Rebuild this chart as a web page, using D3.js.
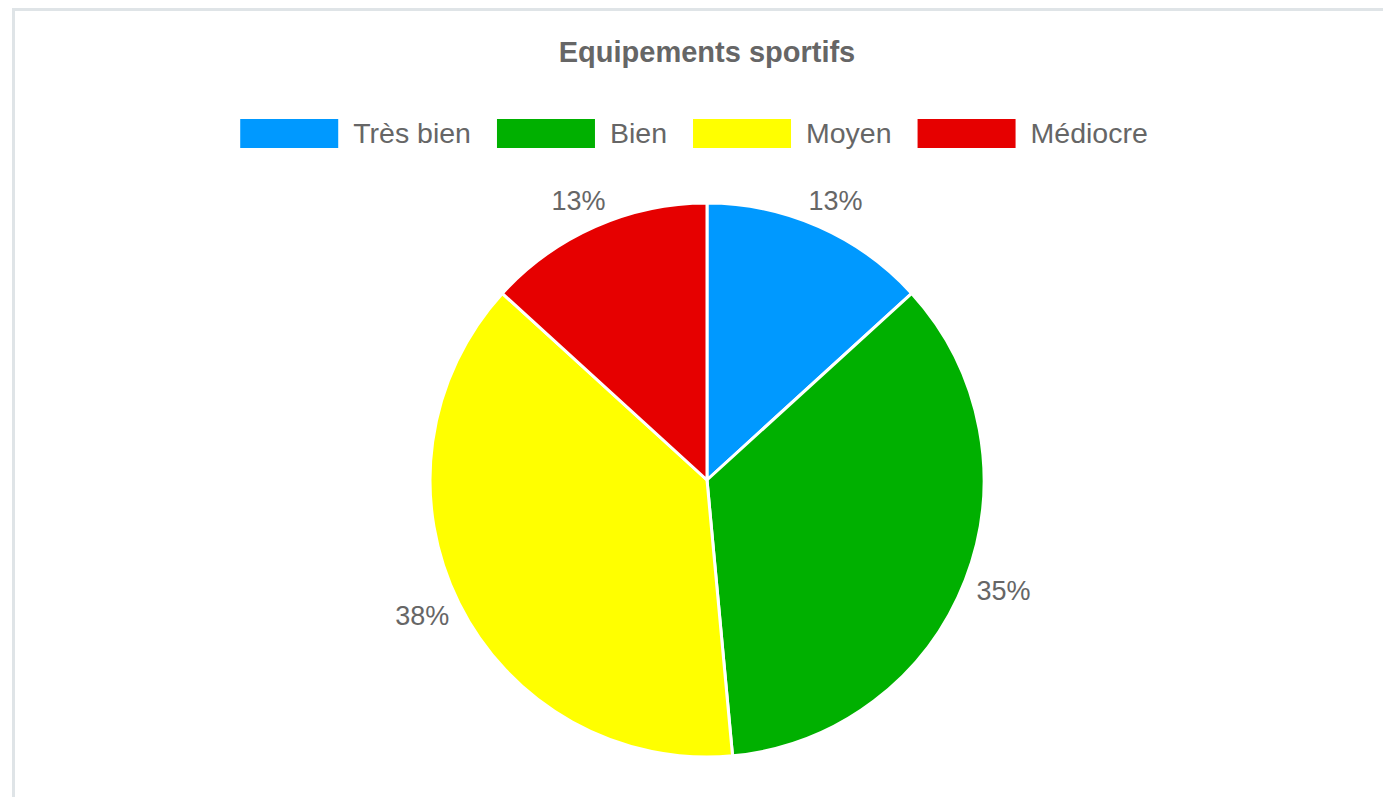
<!DOCTYPE html>
<html>
<head>
<meta charset="utf-8">
<script src="https://cdn.jsdelivr.net/npm/d3@7"></script>
<style>
  html, body { margin: 0; padding: 0; background: #fff; }
  svg { display: block; }
</style>
</head>
<body>
<svg id="chart" width="1383" height="797"></svg>
<script>
const title = "Equipements sportifs";
const categories = ["Très bien", "Bien", "Moyen", "Médiocre"];
const values = [9, 24, 26, 9];
const colors = ["#0099ff", "#00b000", "#ffff00", "#e60000"];

const W = 1383, H = 797;
const svg = d3.select("#chart");
const font = "'Liberation Sans', Arial, Helvetica, sans-serif";

// panel border
svg.append("path")
  .attr("d", `M13.5,${H} L13.5,9.5 L${W},9.5`)
  .attr("fill", "none")
  .attr("stroke", "#dfe4e7")
  .attr("stroke-width", 3);

// title
svg.append("text")
  .attr("x", 707).attr("y", 62)
  .attr("text-anchor", "middle")
  .attr("font-family", font)
  .attr("font-weight", "bold")
  .attr("font-size", 29)
  .attr("fill", "#666")
  .text(title);

// legend
const boxW = 98, boxH = 29, gapText = 15, gapItem = 26, legendCenter = 694;
const legend = svg.append("g").attr("font-family", font).attr("font-size", 28.5).attr("fill", "#666");
const items = categories.map((c, i) => {
  const g = legend.append("g");
  g.append("rect").attr("width", boxW).attr("height", boxH).attr("y", 119).attr("fill", colors[i]);
  const t = g.append("text").attr("x", boxW + gapText).attr("y", 143).text(c);
  return { g, w: boxW + gapText + t.node().getComputedTextLength() };
});
const totalW = d3.sum(items, d => d.w) + gapItem * (items.length - 1);
let x0 = legendCenter - totalW / 2;
items.forEach(it => { it.g.attr("transform", `translate(${x0},0)`); x0 += it.w + gapItem; });

// pie
const cx = 707, cy = 480, R = 277;
const total = d3.sum(values);
const pie = d3.pie().sort(null).value(d => d)(values);
const arc = d3.arc().innerRadius(0).outerRadius(R);
const g = svg.append("g").attr("transform", `translate(${cx},${cy})`);
g.selectAll("path").data(pie).join("path")
  .attr("d", arc)
  .attr("fill", (d, i) => colors[i])
  .attr("stroke", "#fff")
  .attr("stroke-width", 3)
  .attr("stroke-linejoin", "round");

const labelRx = 318, labelRy = 305;
g.selectAll("text.lbl").data(pie).join("text")
  .attr("class", "lbl")
  .attr("x", d => Math.sin((d.startAngle + d.endAngle) / 2) * labelRx)
  .attr("y", d => -Math.cos((d.startAngle + d.endAngle) / 2) * labelRy)
  .attr("text-anchor", "middle")
  .attr("dy", "0.35em")
  .attr("font-family", font)
  .attr("font-size", 27)
  .attr("fill", "#666")
  .text(d => Math.round(d.value / total * 100) + "%");
</script>
</body>
</html>
